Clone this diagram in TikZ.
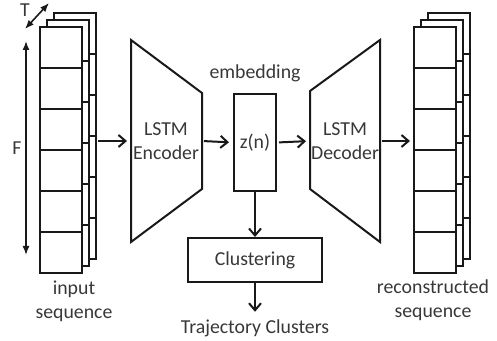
\documentclass[tikz,border=0pt]{standalone}
\usepackage{fontspec}
\setmainfont{Carlito}
\usetikzlibrary{arrows.meta,positioning,calc}

\tikzset{
  blockbox/.style={draw,fill=white,inner sep=0pt},
  lbl/.style={align=center},
  flow/.style={->,shorten <=1pt,shorten >=2pt},
  dimarrow/.style={{Latex[length=4.5pt,width=3.5pt]}-{Latex[length=4.5pt,width=3.5pt]},line width=0.8pt}
}

\begin{document}
\begin{tikzpicture}[x=0.5pt,y=-0.5pt,line width=1pt,draw=black!90,text=black!78,
    font=\fontsize{9.9}{12}\selectfont,
    >={Straight Barb[length=3.5pt,width=6pt]}]
    \useasboundingbox (0,0) rectangle (497,341);
    \def\cw{42}\def\ch{41}
    % the two stacks of frames
    \foreach \sx in {40,414} {
      \foreach \k in {2,1,0} {
        \begin{scope}[shift={(\sx+7*\k,27-7*\k)}]
          \filldraw[fill=white] (0,0) rectangle (\cw,6*\ch);
          \foreach \j in {1,...,5} \draw (0,\j*\ch) -- (\cw,\j*\ch);
        \end{scope}
      }
    }
    \path (96,141) coordinate (inp) (414,141) coordinate (out);
    % axes of the input
    \path (26,41) coordinate (Ftop) (26,255) coordinate (Fbot)
          (25,29) coordinate (Tlo) (49,3) coordinate (Thi);
    \draw[dimarrow] (Fbot) -- (Ftop);
    \draw[dimarrow] (Tlo) -- (Thi);
    \node (F) at (17,148) {F};
    \node (T) at (25,10) {T};
    % encoder and decoder
    \path (131,141) coordinate (encL) (202,141) coordinate (encR)
          (310,141) coordinate (decL) (380,141) coordinate (decR);
    \draw (131,40) -- (202,93) -- (202,189) -- (131,242) -- cycle;
    \draw (310,91) -- (380,40) -- (380,242) -- (310,189) -- cycle;
    \node[lbl] (enc) at (166,141) {LSTM\\Encoder};
    \node[lbl] (dec) at (345,141) {LSTM\\Decoder};
    % embedding
    \node[blockbox,minimum width=21pt,minimum height=48.5pt] (z) at (255,142.5) {z(n)};
    \node[above=1.7pt of z] (emb) {embedding};
    \node[blockbox,minimum width=67pt,minimum height=22pt] (clu) at (255,260) {Clustering};
    \node (traj) at (255,328) {Trajectory Clusters};
    % labels
    \node[lbl] (inlbl) at (74,301) {input\\sequence};
    \node[lbl] (outlbl) at (433,300) {reconstructed\\sequence};
    % connectors
    \draw[flow] (inp) -- (encL);
    \draw[flow] (encR) -- (z.west);
    \draw[flow] (z.east) -- (decL);
    \draw[flow] (decR) -- (out);
    \draw[->] (z.south) -- (clu.north);
    \draw[->] (clu.south) -- (traj.north);
\end{tikzpicture}
\end{document}
